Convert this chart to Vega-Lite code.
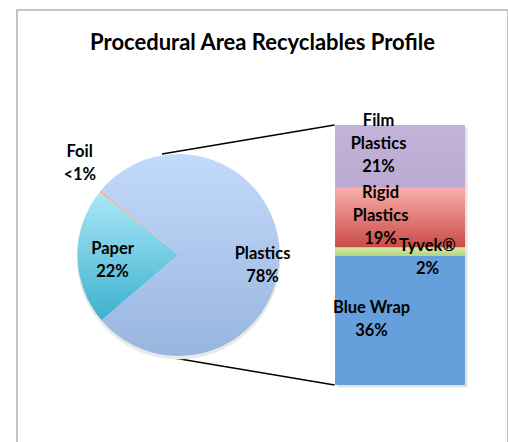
{
  "$schema": "https://vega.github.io/schema/vega-lite/v6.json",
  "width": 491,
  "height": 434,
  "autosize": "none",
  "padding": {"left": 17, "top": 10, "right": 0, "bottom": 0},
  "background": "white",
  "title": {
    "text": "Procedural Area Recyclables Profile",
    "anchor": "middle",
    "frame": "group",
    "offset": -45,
    "font": "Lato",
    "fontSize": 22,
    "fontWeight": "bold",
    "color": "black"
  },
  "config": {
    "view": {"stroke": "#c4c4c4", "strokeWidth": 2},
    "axis": {"disable": true},
    "text": {"font": "Lato", "fontSize": 16.5, "fontWeight": "bold", "color": "black", "lineBreak": "\n", "lineHeight": 23}
  },
  "datasets": {
    "overall": [
      {"item": "Paper", "share": 22, "order": 1, "label": "Paper\n22%"},
      {"item": "Foil", "share": 0.3, "order": 2, "label": "Foil\n<1%"},
      {"item": "Plastics", "share": 78, "order": 3, "label": "Plastics\n78%"}
    ],
    "plastics": [
      {"item": "Blue Wrap", "share": 38.8, "order": 1, "label": "Blue Wrap\n36%"},
      {"item": "Tyvek®", "share": 2.5, "order": 2, "label": "Tyvek®\n2%"},
      {"item": "Rigid Plastics", "share": 17.9, "order": 3, "label": "Rigid\nPlastics\n19%"},
      {"item": "Film Plastics", "share": 18.8, "order": 4, "label": "Film\nPlastics\n21%"}
    ]
  },
  "layer": [
    {
      "data": {"values": [{"link": "Plastics slice to breakdown (top)"}]},
      "mark": {"type": "rule", "color": "black", "strokeWidth": 1.5, "xOffset": -16.5, "x2Offset": -65.5},
      "encoding": {
        "x": {"datum": "All recyclables", "type": "nominal", "scale": {"type": "band", "domain": ["All recyclables", "Plastics breakdown"], "paddingInner": 0.413, "paddingOuter": 0.315, "align": 0.692}},
        "x2": {"datum": "Plastics breakdown"},
        "y": {"datum": 69.3, "type": "quantitative", "scale": {"domain": [-17.7, 112.5], "zero": false, "nice": false}},
        "y2": {"datum": 78}
      }
    },
    {
      "data": {"values": [{"link": "Plastics slice to breakdown (bottom)"}]},
      "mark": {"type": "rule", "color": "black", "strokeWidth": 1.5, "xOffset": -16.5, "x2Offset": -65.5},
      "encoding": {
        "x": {"datum": "All recyclables", "type": "nominal"},
        "x2": {"datum": "Plastics breakdown"},
        "y": {"datum": 8.7, "type": "quantitative"},
        "y2": {"datum": 0}
      }
    },
    {
      "data": {"name": "overall"},
      "encoding": {
        "x": {"datum": "All recyclables", "type": "nominal"},
        "y": {"datum": 39, "type": "quantitative"},
        "theta": {"field": "share", "type": "quantitative", "stack": true, "scale": {"range": [4.009, 10.292]}},
        "order": {"field": "order", "type": "quantitative"}
      },
      "layer": [
        {
          "mark": {"type": "arc", "outerRadius": 102, "yOffset": 2.5, "fill": "#e9e9e9"}
        },
        {
          "mark": {"type": "arc", "outerRadius": 101},
          "encoding": {
            "fill": {
              "condition": [
                {"test": "datum.item === 'Paper'", "value": {"gradient": "linear", "x1": 0, "y1": 0, "x2": 0, "y2": 1, "stops": [{"offset": 0, "color": "#abe7f9"}, {"offset": 1, "color": "#3cb1ce"}]}},
                {"test": "datum.item === 'Foil'", "value": "#f4b183"}
              ],
              "value": {"gradient": "linear", "x1": 0, "y1": 0, "x2": 0, "y2": 1, "stops": [{"offset": 0, "color": "#c3dafa"}, {"offset": 1, "color": "#98b5df"}]}
            }
          }
        },
        {
          "mark": {"type": "text", "radius": 84, "dy": -1},
          "encoding": {"text": {"condition": {"test": "datum.item === 'Plastics'", "field": "label"}, "value": ""}}
        },
        {
          "mark": {"type": "text", "radius": 66, "dy": -7},
          "encoding": {"text": {"condition": {"test": "datum.item === 'Paper'", "field": "label"}, "value": ""}}
        },
        {
          "mark": {"type": "text", "radius": 134, "dx": 5, "dy": -18},
          "encoding": {"text": {"condition": {"test": "datum.item === 'Foil'", "field": "label"}, "value": ""}}
        }
      ]
    },
    {
      "data": {"name": "plastics"},
      "encoding": {
        "x": {"datum": "Plastics breakdown", "type": "nominal"},
        "order": {"field": "order", "type": "quantitative"}
      },
      "layer": [
        {
          "mark": {"type": "bar", "xOffset": 2.5, "yOffset": 2.5, "fill": "#e4e4e4"},
          "encoding": {
            "y": {"field": "share", "type": "quantitative", "stack": "zero"}
          }
        },
        {
          "mark": {"type": "bar"},
          "encoding": {
            "y": {"field": "share", "type": "quantitative", "stack": "zero"},
            "fill": {
              "condition": [
                {"test": "datum.item === 'Film Plastics'", "value": {"gradient": "linear", "x1": 0, "y1": 0, "x2": 0, "y2": 1, "stops": [{"offset": 0, "color": "#c2b3d7"}, {"offset": 1, "color": "#baa9d1"}]}},
                {"test": "datum.item === 'Rigid Plastics'", "value": {"gradient": "linear", "x1": 0, "y1": 0, "x2": 0, "y2": 1, "stops": [{"offset": 0, "color": "#faaeac"}, {"offset": 1, "color": "#c94b46"}]}},
                {"test": "datum.item === 'Tyvek®'", "value": {"gradient": "linear", "x1": 0, "y1": 0, "x2": 0, "y2": 1, "stops": [{"offset": 0, "color": "#d6eba8"}, {"offset": 1, "color": "#b3d27f"}]}}
              ],
              "value": "#65a0dc"
            }
          }
        },
        {
          "mark": {"type": "text", "dx": -21.5, "dy": -35.5},
          "encoding": {
            "y": {"field": "share", "type": "quantitative", "stack": "zero", "bandPosition": 0.5},
            "text": {"condition": {"test": "datum.item === 'Film Plastics'", "field": "label"}, "value": ""}
          }
        },
        {
          "mark": {"type": "text", "dx": -19.5, "dy": -25},
          "encoding": {
            "y": {"field": "share", "type": "quantitative", "stack": "zero", "bandPosition": 0.5},
            "text": {"condition": {"test": "datum.item === 'Rigid Plastics'", "field": "label"}, "value": ""}
          }
        },
        {
          "mark": {"type": "text", "dx": 27.5, "dy": -6},
          "encoding": {
            "y": {"field": "share", "type": "quantitative", "stack": "zero", "bandPosition": 0.5},
            "text": {"condition": {"test": "datum.item === 'Tyvek®'", "field": "label"}, "value": ""}
          }
        },
        {
          "mark": {"type": "text", "dx": -28.5, "dy": -12.5},
          "encoding": {
            "y": {"field": "share", "type": "quantitative", "stack": "zero", "bandPosition": 0.5},
            "text": {"condition": {"test": "datum.item === 'Blue Wrap'", "field": "label"}, "value": ""}
          }
        }
      ]
    }
  ]
}
